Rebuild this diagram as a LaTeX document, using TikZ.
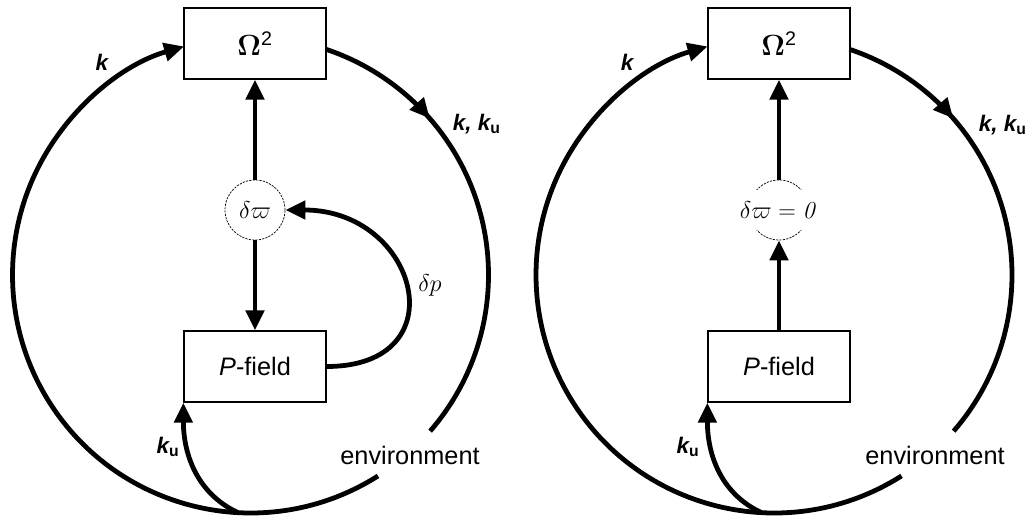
\documentclass[tikz,border=0pt]{standalone}
\usepackage{amsmath}
\usepackage[no-math]{fontspec}
\setmainfont{Liberation Sans}
\usetikzlibrary{arrows.meta, calc, decorations.markings}

\begin{document}
\begin{tikzpicture}[
    box/.style={draw, line width=0.9pt, minimum width=3.55cm, minimum height=1.775cm, inner sep=0pt, font=\fontsize{18}{20}\selectfont},
    flow/.style={line width=3.4pt},
    tip/.style={-{Triangle[length=0.5cm,width=0.45cm]}},
    midtip/.style={postaction={decorate}, decoration={markings, mark=at position #1 with {\arrow{Triangle[length=0.5cm,width=0.45cm]}}}},
    var/.style={circle, draw, line width=0.5pt, dash pattern=on 1.6pt off 0.8pt, minimum size=1.5cm, inner sep=0pt, font=\fontsize{17}{19}\selectfont},
    lbl/.style={font=\fontsize{16}{18}\selectfont\bfseries\itshape},
    txt/.style={font=\fontsize{18}{20}\selectfont}
  ]
  \useasboundingbox (0,0) rectangle (25.775,13);

  % Izquierda
  \coordinate (cL) at (6.2625,6.125);
  \node[box, font=\fontsize{20}{22}\selectfont] (omL) at (6.375,11.9125) {$\mathbf{\Omega}$\textsuperscript{2}};
  \node[var] (dwL) at (6.375,7.75) {$\delta\varpi$};
  \node[box] (plL) at (6.375,3.8375) {\textit{P}-field};
  \coordinate (aL) at ($(cL)+(71.5:5.95)$);
  \coordinate (gL) at ($(cL)+(-57.6:5.95)$);
  \coordinate (bL) at ($(cL)+(-93:5.95)$);
  \draw[flow, midtip=0.27] (aL) arc[start angle=71.5, end angle=-41, radius=5.95];
  \draw[flow, tip] (gL) arc[start angle=-57.6, end angle=-253.8, radius=5.95];
  \draw[flow, tip] (dwL) -- (omL);
  \draw[flow, tip] (dwL) -- (plL);
  \draw[flow, tip] (plL.east) to[out=0, in=0, looseness=2.1] (dwL.east);
  \draw[flow, tip] (bL) to[out=155, in=-90] (plL.south west);

  \node[lbl] (kL) at (2.55,11.45) {k};
  \node[lbl, anchor=west] (kkL) at (11.2,9.9) {k, k\textsubscript{\upshape u}};
  \node[lbl] (kuL) at (4.2,1.825) {k\textsubscript{\upshape u}};
  \node[txt] (envL) at (10.25,1.625) {environment};
  \node[font=\fontsize{17}{19}\selectfont] (dpL) at (10.75,5.875) {$\delta p$};

  % Derecha
  \coordinate (cR) at (19.35,6.125);
  \node[box, font=\fontsize{20}{22}\selectfont] (omR) at (19.475,11.9125) {$\mathbf{\Omega}$\textsuperscript{2}};
  \node[var] (dwR) at (19.475,7.75) {};
  \node[fill=white, minimum height=1cm, inner xsep=1pt, font=\fontsize{17}{19}\selectfont] (eqR) at (dwR) {$\delta\varpi = \mathit{0}$};
  \node[box] (plR) at (19.475,3.8375) {\textit{P}-field};
  \coordinate (aR) at ($(cR)+(71.5:5.95)$);
  \coordinate (gR) at ($(cR)+(-57.6:5.95)$);
  \coordinate (bR) at ($(cR)+(-93:5.95)$);
  \draw[flow, midtip=0.27] (aR) arc[start angle=71.5, end angle=-41, radius=5.95];
  \draw[flow, tip] (gR) arc[start angle=-57.6, end angle=-253.8, radius=5.95];
  \draw[flow, tip] (plR) -- (dwR);
  \draw[flow, tip] (dwR) -- (omR);
  \draw[flow, tip] (bR) to[out=155, in=-90] (plR.south west);

  \node[lbl] (kR) at (15.675,11.45) {k};
  \node[lbl, anchor=west] (kkR) at (24.35,9.875) {k, k\textsubscript{\upshape u}};
  \node[lbl] (kuR) at (17.2,1.825) {k\textsubscript{\upshape u}};
  \node[txt] (envR) at (23.375,1.625) {environment};
\end{tikzpicture}
\end{document}
